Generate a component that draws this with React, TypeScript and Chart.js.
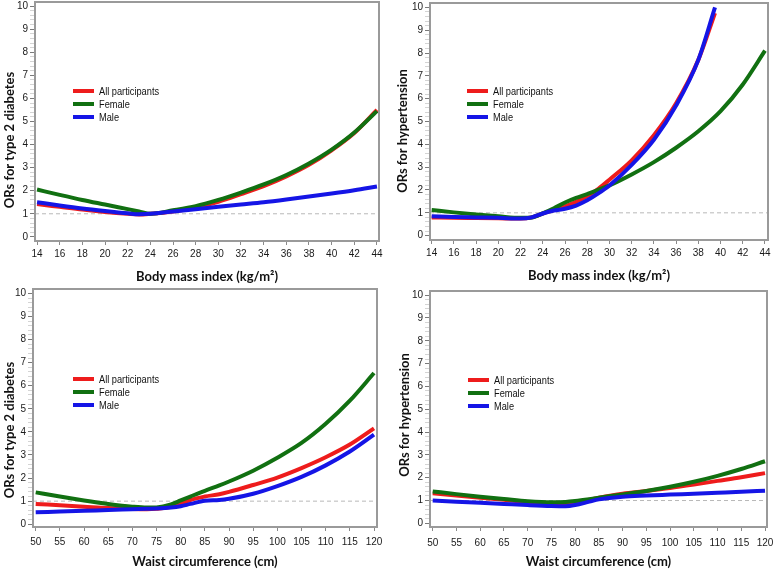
import React, { useEffect, useRef } from "react";
import { Chart, registerables } from "chart.js";

Chart.register(...registerables);

// ---------- colours & fonts ----------
const RED = "#ee1c1c";
const GREEN = "#117011";
const BLUE = "#1515e6";
const SANS = "'Liberation Sans', Arial, sans-serif";
const TITLE_FONT = "Lato, 'Open Sans', 'Liberation Sans', sans-serif";

// ---------- data ----------
const seriesNames = ["All participants", "Female", "Male"];
const yTicks = [0, 1, 2, 3, 4, 5, 6, 7, 8, 9, 10];
const bmiTicks = [14, 16, 18, 20, 22, 24, 26, 28, 30, 32, 34, 36, 38, 40, 42, 44];
const waistTicks = [50, 55, 60, 65, 70, 75, 80, 85, 90, 95, 100, 105, 110, 115, 120];
const refLineY = [1, 1];

// Panel A: BMI vs type 2 diabetes
const t2dBmiX = [14, 16, 18, 20, 22, 23, 24, 26, 28, 30, 32, 34, 36, 38, 40, 42, 44];
const t2dBmiAll = [1.42, 1.3, 1.18, 1.08, 1.0, 0.97, 1.0, 1.1, 1.27, 1.52, 1.85, 2.2, 2.62, 3.12, 3.75, 4.5, 5.5];
const t2dBmiFemale = [2.05, 1.82, 1.6, 1.4, 1.2, 1.1, 1.0, 1.15, 1.33, 1.6, 1.92, 2.27, 2.68, 3.18, 3.78, 4.52, 5.45];
const t2dBmiMale = [1.5, 1.36, 1.23, 1.12, 1.02, 0.98, 1.0, 1.1, 1.2, 1.3, 1.4, 1.5, 1.62, 1.75, 1.88, 2.02, 2.18];

// Panel B: BMI vs hypertension
const htnBmiX = [14, 16, 18, 20, 22, 23, 24, 25, 26, 27, 28, 29, 30, 32, 34, 36, 38, 39.5];
const htnBmiAll = [0.8, 0.78, 0.77, 0.76, 0.75, 0.8, 0.97, 1.12, 1.28, 1.48, 1.72, 2.05, 2.45, 3.3, 4.4, 5.8, 7.7, 9.75];
const htnBmiMale = [0.85, 0.82, 0.8, 0.78, 0.75, 0.8, 0.97, 1.1, 1.18, 1.32, 1.55, 1.85, 2.2, 3.1, 4.2, 5.7, 7.7, 10.0];
const htnBmiFemaleX = [14, 16, 18, 20, 22, 23, 24, 25, 26, 27, 28, 30, 32, 34, 36, 38, 40, 42, 44];
const htnBmiFemale = [1.12, 1.02, 0.93, 0.85, 0.78, 0.8, 0.98, 1.2, 1.45, 1.65, 1.82, 2.2, 2.68, 3.22, 3.85, 4.57, 5.45, 6.62, 8.1];

// Panel C: waist vs type 2 diabetes
const t2dWaistX = [50, 55, 60, 65, 70, 73, 75, 78, 80, 82, 85, 88, 90, 95, 100, 105, 110, 115, 120];
const t2dWaistAll = [0.88, 0.82, 0.76, 0.7, 0.66, 0.65, 0.67, 0.75, 0.88, 1.05, 1.2, 1.3, 1.4, 1.7, 2.02, 2.43, 2.9, 3.45, 4.15];
const t2dWaistFemale = [1.38, 1.2, 1.03, 0.88, 0.76, 0.72, 0.73, 0.86, 1.03, 1.2, 1.45, 1.68, 1.85, 2.32, 2.88, 3.52, 4.35, 5.35, 6.55];
const t2dWaistMale = [0.52, 0.55, 0.58, 0.62, 0.65, 0.67, 0.68, 0.72, 0.78, 0.88, 1.02, 1.05, 1.1, 1.32, 1.65, 2.05, 2.55, 3.15, 3.88];

// Panel D: waist vs hypertension
const htnWaistX = [50, 55, 60, 65, 70, 75, 78, 80, 83, 85, 90, 95, 100, 105, 110, 115, 120];
const htnWaistAll = [1.32, 1.22, 1.12, 1.03, 0.93, 0.87, 0.88, 0.93, 1.03, 1.12, 1.3, 1.42, 1.55, 1.7, 1.86, 2.02, 2.2];
const htnWaistFemale = [1.4, 1.28, 1.17, 1.07, 0.97, 0.92, 0.94, 0.98, 1.06, 1.12, 1.27, 1.42, 1.6, 1.82, 2.08, 2.38, 2.72];
const htnWaistMale = [1.0, 0.95, 0.9, 0.85, 0.8, 0.76, 0.75, 0.8, 0.95, 1.05, 1.17, 1.22, 1.26, 1.3, 1.34, 1.38, 1.43];

// ---------- panel layout ----------
type Series = { x: number[]; y: number[] };
type Panel = {
  left: number; top: number; width: number; height: number;
  area: { l: number; t: number; r: number; b: number };
  xMin: number; xMax: number; yMin: number; yMax: number;
  xTicks: number[]; xTitle: string; yTitle: string;
  yTitlePos: [number, number];
  xTitlePad: number; xTickPad: number;
  legend: { x: number; y: number };
  series: Series[];
};

const panels: Panel[] = [
  {
    left: 0, top: 0, width: 386, height: 287,
    area: { l: 35, t: 2, r: 379, b: 241 },
    xMin: 13.82, xMax: 44.18, yMin: -0.18, yMax: 10.18,
    xTicks: bmiTicks, xTitle: "Body mass index (kg/m²)", yTitle: "ORs for type 2 diabetes",
    yTitlePos: [10, 140], xTitlePad: 2.2, xTickPad: 3,
    legend: { x: 73, y: 91 },
    series: [
      { x: t2dBmiX, y: t2dBmiAll },
      { x: t2dBmiX, y: t2dBmiFemale },
      { x: t2dBmiX, y: t2dBmiMale },
    ],
  },
  {
    left: 386, top: 0, width: 387, height: 287,
    area: { l: 44, t: 3, r: 382, b: 240 },
    xMin: 13.85, xMax: 44.27, yMin: -0.19, yMax: 10.19,
    xTicks: bmiTicks, xTitle: "Body mass index (kg/m²)", yTitle: "ORs for hypertension",
    yTitlePos: [17, 131], xTitlePad: 3.2, xTickPad: 3,
    legend: { x: 81, y: 91 },
    series: [
      { x: htnBmiX, y: htnBmiAll },
      { x: htnBmiFemaleX, y: htnBmiFemale },
      { x: htnBmiX, y: htnBmiMale },
    ],
  },
  {
    left: 0, top: 287, width: 386, height: 286,
    area: { l: 33, t: 2, r: 377, b: 240 },
    xMin: 49.44, xMax: 120.62, yMin: -0.12, yMax: 10.19,
    xTicks: waistTicks, xTitle: "Waist circumference (cm)", yTitle: "ORs for type 2 diabetes",
    yTitlePos: [10, 143], xTitlePad: 3.5, xTickPad: 5,
    legend: { x: 73, y: 92 },
    series: [
      { x: t2dWaistX, y: t2dWaistAll },
      { x: t2dWaistX, y: t2dWaistFemale },
      { x: t2dWaistX, y: t2dWaistMale },
    ],
  },
  {
    left: 386, top: 287, width: 387, height: 286,
    area: { l: 44, t: 4, r: 381, b: 240 },
    xMin: 49.43, xMax: 120.42, yMin: -0.16, yMax: 10.18,
    xTicks: waistTicks, xTitle: "Waist circumference (cm)", yTitle: "ORs for hypertension",
    yTitlePos: [19, 128], xTitlePad: 3.5, xTickPad: 6,
    legend: { x: 82, y: 93 },
    series: [
      { x: htnWaistX, y: htnWaistAll },
      { x: htnWaistX, y: htnWaistFemale },
      { x: htnWaistX, y: htnWaistMale },
    ],
  },
];

const seriesColors = [RED, GREEN, BLUE];

function PanelChart({ cfg }: { cfg: Panel }) {
  const ref = useRef<HTMLCanvasElement | null>(null);

  useEffect(() => {
    if (!ref.current) return;
    const minorY: number[] = [];
    for (let i = 0; i < yTicks.length - 1; i++) {
      for (let k = 0; k < 5; k++) minorY.push(yTicks[i] + (k * (yTicks[i + 1] - yTicks[i])) / 5);
    }
    minorY.push(yTicks[yTicks.length - 1]);
    const isMajor = (v: number) => yTicks.some((t) => Math.abs(t - v) < 1e-6);

    const datasets: any[] = cfg.series.map((s, i) => ({
      label: seriesNames[i],
      data: s.x.map((x, j) => ({ x, y: s.y[j] })),
      borderColor: seriesColors[i],
      backgroundColor: seriesColors[i],
      borderWidth: 4,
      pointRadius: 0,
      cubicInterpolationMode: "monotone",
      fill: false,
      order: 3 - i,
    }));
    datasets.push({
      label: "ref",
      data: [
        { x: cfg.xMin, y: refLineY[0] },
        { x: cfg.xMax, y: refLineY[1] },
      ],
      borderColor: "#b8b8b8",
      borderWidth: 1,
      borderDash: [4, 3],
      pointRadius: 0,
      fill: false,
      order: 10,
    });

    const panelPlugin = {
      id: "panelDecor",
      afterDraw(chart: any) {
        const { ctx, chartArea } = chart;
        ctx.save();
        // frame
        ctx.strokeStyle = "#9a9a9a";
        ctx.lineWidth = 2;
        ctx.strokeRect(chartArea.left, chartArea.top, chartArea.right - chartArea.left, chartArea.bottom - chartArea.top);
        // legend
        seriesNames.forEach((name, i) => {
          const y = cfg.legend.y + i * 13;
          ctx.strokeStyle = seriesColors[i];
          ctx.lineWidth = 4;
          ctx.beginPath();
          ctx.moveTo(cfg.legend.x, y);
          ctx.lineTo(cfg.legend.x + 21, y);
          ctx.stroke();
          ctx.save();
          ctx.translate(cfg.legend.x + 26, y + 0.5);
          ctx.scale(0.84, 1);
          ctx.font = `11px ${SANS}`;
          ctx.textBaseline = "middle";
          ctx.textAlign = "left";
          ctx.fillStyle = "#111";
          ctx.fillText(name, 0, 0);
          ctx.restore();
        });
        // y title
        ctx.translate(cfg.yTitlePos[0], cfg.yTitlePos[1]);
        ctx.rotate(-Math.PI / 2);
        ctx.font = `bold 13px ${TITLE_FONT}`;
        ctx.fillStyle = "#111";
        ctx.textAlign = "center";
        ctx.textBaseline = "middle";
        ctx.fillText(cfg.yTitle, 0, 0);
        ctx.restore();
      },
    };

    const chart = new Chart(ref.current, {
      type: "line",
      data: { datasets },
      plugins: [panelPlugin],
      options: {
        responsive: false,
        animation: false,
        events: [],
        layout: {
          padding: { top: cfg.area.t, right: cfg.width - cfg.area.r, left: 0, bottom: 0 },
        },
        plugins: {
          legend: { display: false },
          tooltip: { enabled: false },
        },
        scales: {
          x: {
            type: "linear",
            min: cfg.xMin,
            max: cfg.xMax,
            border: { display: false },
            grid: { drawOnChartArea: false, drawTicks: true, tickLength: 4, tickColor: "#8a8a8a" },
            afterBuildTicks: (scale: any) => {
              scale.ticks = cfg.xTicks.map((v) => ({ value: v }));
            },
            afterFit: (scale: any) => {
              scale.height = cfg.height - cfg.area.b;
              scale.paddingLeft = 0;
              scale.paddingRight = 0;
            },
            ticks: {
              autoSkip: false,
              maxRotation: 0,
              padding: cfg.xTickPad,
              color: "#1a1a1a",
              font: { family: SANS, size: 10 },
              callback: (v: any) => String(v),
            },
            title: {
              display: true,
              text: cfg.xTitle,
              color: "#111",
              font: { family: TITLE_FONT, size: 13, weight: "bold" },
              padding: { top: 0, bottom: cfg.xTitlePad },
            },
          },
          y: {
            type: "linear",
            min: cfg.yMin,
            max: cfg.yMax,
            border: { display: false },
            grid: {
              drawOnChartArea: false,
              drawTicks: true,
              tickLength: 5,
              tickColor: (c: any) => (c.tick && isMajor(c.tick.value) ? "#7a7a7a" : "#d4d4d4"),
            },
            afterBuildTicks: (scale: any) => {
              scale.ticks = minorY.map((v) => ({ value: v }));
            },
            afterFit: (scale: any) => {
              scale.width = cfg.area.l;
              scale.paddingTop = 0;
              scale.paddingBottom = 0;
            },
            ticks: {
              autoSkip: false,
              padding: 2,
              color: "#1a1a1a",
              font: { family: SANS, size: 10 },
              callback: (v: any) => (isMajor(Number(v)) ? String(Math.round(Number(v))) : ""),
            },
          },
        },
      },
    } as any);

    return () => chart.destroy();
  }, [cfg]);

  return (
    <div style={{ position: "absolute", left: cfg.left, top: cfg.top, width: cfg.width, height: cfg.height }}>
      <canvas ref={ref} width={cfg.width} height={cfg.height} style={{ display: "block" }} />
    </div>
  );
}

export default function App() {
  return (
    <div
      style={{
        position: "absolute",
        left: 0,
        top: 0,
        width: 773,
        height: 573,
        overflow: "hidden",
        background: "#ffffff",
      }}
    >
      {panels.map((p, i) => (
        <PanelChart key={i} cfg={p} />
      ))}
    </div>
  );
}
